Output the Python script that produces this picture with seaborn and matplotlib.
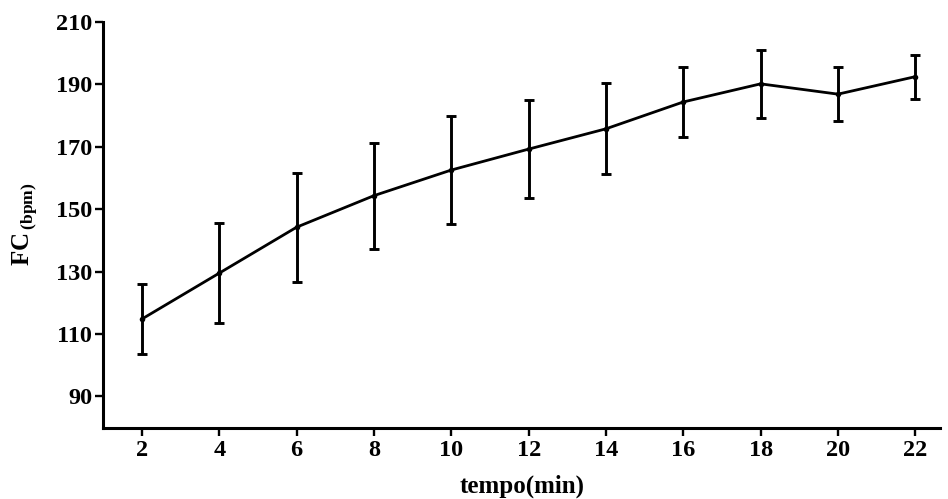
import numpy as np
import pandas as pd
import seaborn as sns
import matplotlib.pyplot as plt

# heart rate per minute of the test (mean and sd)
tempo = [2, 4, 6, 8, 10, 12, 14, 16, 18, 20, 22]
fc_mean = [114.8, 129.5, 144.2, 154.3, 162.5, 169.2, 175.7, 184.3, 190.1, 186.8, 192.4]
fc_sd = [11.2, 16.0, 17.4, 17.0, 17.2, 15.7, 14.6, 11.3, 10.9, 8.7, 7.0]
yticks = [90, 110, 130, 150, 170, 190, 210]

sns.set_style("ticks")
plt.rcParams['font.family'] = ['Liberation Serif', 'DejaVu Serif']
plt.rcParams['font.weight'] = 'bold'
plt.rcParams['text.color'] = 'black'
plt.rcParams['axes.labelcolor'] = 'black'
plt.rcParams['mathtext.fontset'] = 'custom'
plt.rcParams['mathtext.rm'] = 'Liberation Serif:bold'
plt.rcParams['mathtext.bf'] = 'Liberation Serif:bold'

d = pd.DataFrame({'tempo': tempo, 'fc': fc_mean, 'sd': fc_sd})

fig, ax = plt.subplots(figsize=(9.48, 4.99), dpi=100)
fig.subplots_adjust(left=0.109, right=0.992, bottom=0.143, top=0.9565)

ax.errorbar(d['tempo'], d['fc'], yerr=d['sd'], fmt='none', ecolor='black',
            elinewidth=2.1, capsize=3.5, capthick=2.1, zorder=2)
sns.lineplot(data=d, x='tempo', y='fc', color='black', linewidth=2.0,
             marker='o', markersize=4, markeredgewidth=0, ax=ax, zorder=3)

ax.set_xlim(1, 22.65)
ax.set_ylim(80, 210)
ax.set_xticks(tempo)
ax.set_yticks(yticks)
ax.tick_params(axis='both', width=1.7, length=6, labelsize=17.5,
               color='black', labelcolor='black')
ax.tick_params(axis='x', pad=3)
ax.tick_params(axis='y', pad=2)
for lab in ax.get_xticklabels() + ax.get_yticklabels():
    lab.set_fontweight('bold')

sns.despine(ax=ax)
for s in ['left', 'bottom']:
    ax.spines[s].set_linewidth(2.2)
    ax.spines[s].set_color('black')

ax.set_xlabel('tempo(min)', fontsize=18, fontweight='bold', labelpad=10, color='black')
ax.set_ylabel(r'FC$_{\,\mathrm{(bpm)}}$', fontsize=18, fontweight='bold', labelpad=12, color='black')

plt.savefig('out.png', dpi=100)
